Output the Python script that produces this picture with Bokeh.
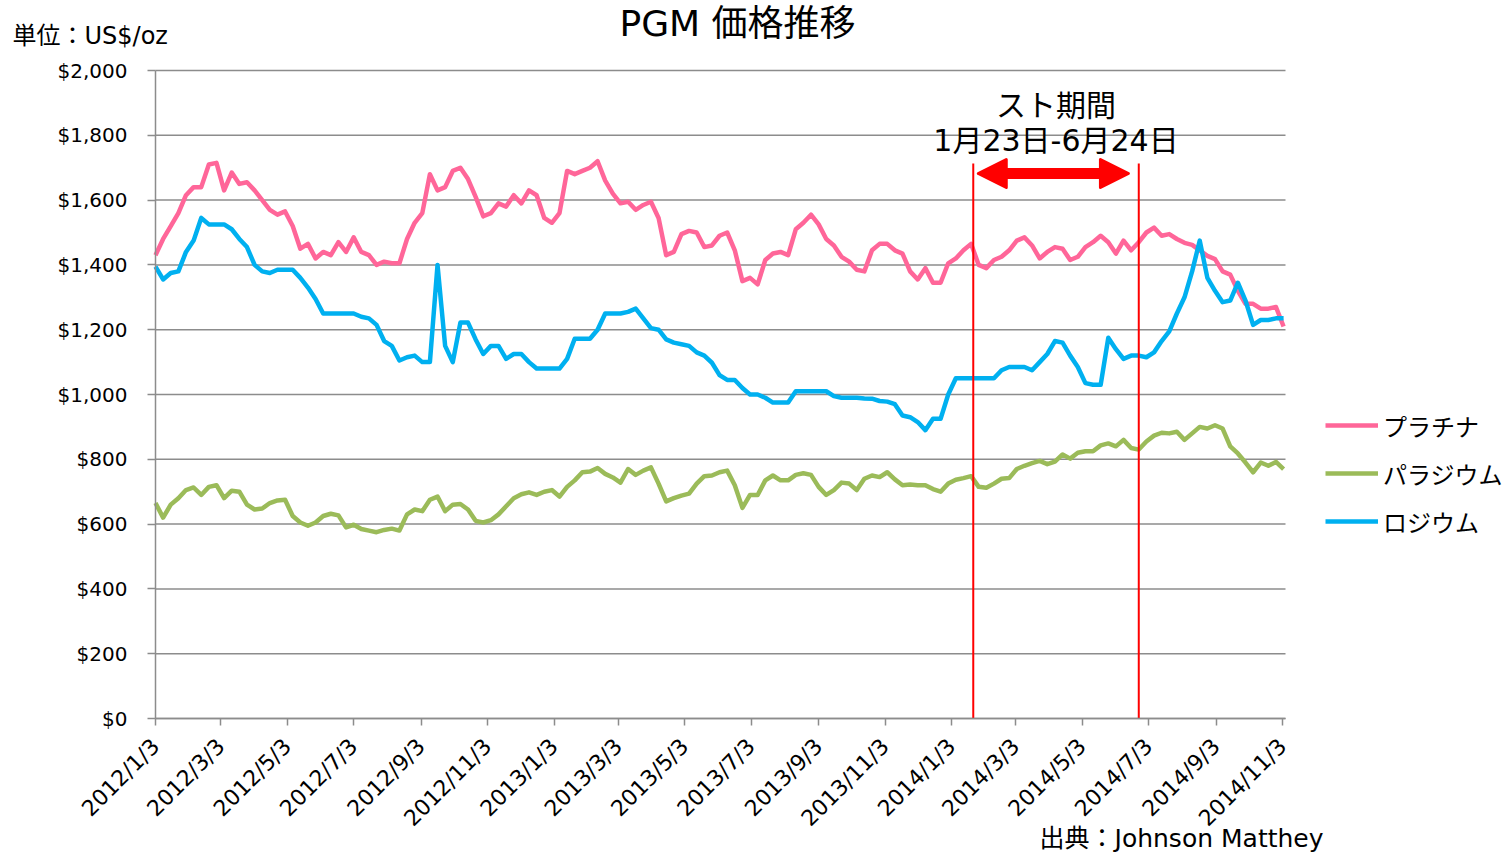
import pandas as pd
from bokeh.plotting import figure
from bokeh.models import (Range1d, FixedTicker, NumeralTickFormatter, Legend, LegendItem,
                          Label, Arrow, NormalHead, ColumnDataSource)
from bokeh.embed import file_html
from bokeh.resources import INLINE

# ---------------- data (weekly readings, US$/oz) ----------------
start_date = "2012-01-03"

platinum = [
    1430, 1480, 1520, 1560, 1615, 1640, 1640, 1710, 1715, 1630,
    1685, 1650, 1655, 1630, 1600, 1570, 1555, 1565, 1520, 1450,
    1465, 1420, 1440, 1430, 1470, 1440, 1485, 1440, 1430, 1400,
    1410, 1405, 1405, 1480, 1530, 1560, 1680, 1630, 1640, 1690,
    1700, 1665, 1610, 1550, 1560, 1590, 1580, 1615, 1590, 1630,
    1615, 1545, 1530, 1560, 1690, 1680, 1690, 1700, 1720, 1660,
    1620, 1590, 1595, 1570, 1585, 1595, 1545, 1430, 1440, 1495,
    1505, 1500, 1455, 1460, 1490, 1500, 1445, 1350, 1360, 1340,
    1415, 1435, 1440, 1430, 1510, 1530, 1555, 1525, 1480, 1460,
    1425, 1410, 1385, 1380, 1445, 1465, 1465, 1445, 1435, 1380,
    1355, 1390, 1345, 1345, 1405, 1420, 1445, 1465, 1400, 1390,
    1415, 1425, 1445, 1475, 1485, 1460, 1420, 1440, 1455, 1450,
    1415, 1425, 1455, 1470, 1490, 1470, 1435, 1475, 1445, 1470,
    1500, 1515, 1490, 1495, 1480, 1468, 1462, 1445, 1428, 1418,
    1380, 1370, 1320, 1280, 1280, 1265, 1265, 1270, 1210,
]

palladium = [
    665, 620, 660, 680, 705, 713, 690, 715, 720, 680,
    703, 700, 660, 645, 648, 665, 673, 675, 625, 605,
    595, 605, 625, 632, 627, 590, 598, 585, 580, 575,
    582, 586, 580, 630, 645, 640, 675, 685, 640, 660,
    662, 645, 610, 605, 612, 630, 655, 680, 692, 698,
    690, 700, 705, 685, 715, 735, 760, 762, 773, 755,
    744, 728, 770, 752, 765, 775, 725, 670, 680, 688,
    694, 725, 748, 750, 760, 765, 720, 650, 690, 690,
    735, 750, 735, 735, 752, 757, 752, 715, 690, 705,
    728, 725, 705, 740, 750, 745, 760, 738, 720, 722,
    720, 720, 708, 700, 725, 737, 742, 748, 715, 712,
    725, 740, 742, 770, 780, 788, 795, 785, 793, 815,
    802, 820, 825, 825, 843, 849, 840, 860, 835, 830,
    855, 873, 882, 880, 885, 860, 880, 900, 895, 905,
    895, 840, 818, 790, 760, 790, 780, 792, 770,
]

rhodium = [
    1395, 1355, 1375, 1380, 1440, 1475, 1545, 1525, 1525, 1525,
    1510, 1480, 1455, 1400, 1380, 1375, 1385, 1385, 1385, 1360,
    1330, 1295, 1250, 1250, 1250, 1250, 1250, 1240, 1235, 1215,
    1165, 1150, 1105, 1115, 1120, 1100, 1100, 1400, 1150, 1100,
    1222, 1222, 1170, 1125, 1150, 1150, 1110, 1125, 1125, 1100,
    1080, 1080, 1080, 1080, 1110, 1172, 1172, 1172, 1200, 1250,
    1250, 1250, 1255, 1265, 1235, 1205, 1200, 1170, 1160, 1155,
    1150, 1130, 1120, 1098, 1060, 1045, 1045, 1020, 1000, 1000,
    990, 975, 975, 975, 1010, 1010, 1010, 1010, 1010, 995,
    990, 990, 990, 988, 987, 980, 978, 970, 935, 930,
    915, 890, 925, 925, 1000, 1050, 1050, 1050, 1050, 1050,
    1050, 1075, 1085, 1085, 1085, 1075, 1100, 1125, 1165, 1160,
    1120, 1085, 1035, 1030, 1030, 1175, 1140, 1110, 1120, 1120,
    1115, 1130, 1165, 1195, 1250, 1300, 1380, 1475, 1360, 1320,
    1285, 1290, 1345, 1290, 1215, 1230, 1230, 1235, 1235,
]

series_names = ["プラチナ", "パラジウム", "ロジウム"]
series_colors = ["#FF6699", "#9BBB59", "#00B0F0"]

tick_labels = ["2012/1/3", "2012/3/3", "2012/5/3", "2012/7/3", "2012/9/3", "2012/11/3",
               "2013/1/3", "2013/3/3", "2013/5/3", "2013/7/3", "2013/9/3", "2013/11/3",
               "2014/1/3", "2014/3/3", "2014/5/3", "2014/7/3", "2014/9/3", "2014/11/3"]
y_ticks = [0, 200, 400, 600, 800, 1000, 1200, 1400, 1600, 1800, 2000]
y_max = 2000

strike_start = "2014-01-23"
strike_end = "2014-06-24"

# ---------------- layout (pixels on the page) ----------------
W, H = 1510, 856
AX_L, AX_R = 155, 1285        # x pixels of the axis start / end
AX_B, AX_T = 718, 70          # y pixels of $0 / $2,000

EPOCH = pd.Timestamp("1970-01-01")
DAY = 86400000.0


def ms(ts):
    return (pd.Timestamp(ts) - EPOCH).total_seconds() * 1000.0


dates = pd.date_range(start_date, periods=len(platinum), freq="7D")
src = ColumnDataSource(dict(date=dates, pt=platinum, pd_=palladium, rh=rhodium))
tick_ms = [ms(pd.to_datetime(t)) for t in tick_labels]

x_start = ms(start_date)
x_end = ms(pd.Timestamp("2014-11-05 18:00"))
px_per_ms = (AX_R - AX_L) / (x_end - x_start)
px_per_usd = (AX_B - AX_T) / y_max

# frame covers the whole canvas; axes are pinned with fixed_location
xr = Range1d(x_start - AX_L / px_per_ms, x_start + (W - AX_L) / px_per_ms)
yr = Range1d(-(H - AX_B) / px_per_usd, y_max + AX_T / px_per_usd)

FONT_NUM = "DejaVu Sans"
FONT_MIX = "DejaVu Sans, Noto Sans CJK JP"
FONT_JP = "Noto Sans CJK JP"

p = figure(width=W, height=H, x_axis_type="datetime", x_range=xr, y_range=yr,
           output_backend="svg", toolbar_location=None, title=None,
           min_border_left=0, min_border_right=0, min_border_top=0, min_border_bottom=0)
p.outline_line_color = None
p.background_fill_color = "white"
p.border_fill_color = "white"
p.xgrid.visible = False
p.ygrid.visible = False

# horizontal grid lines limited to the axis span
p.segment(x0=[x_start] * len(y_ticks), x1=[x_end] * len(y_ticks), y0=y_ticks, y1=y_ticks,
          line_color="#8C8C8C", line_width=1.5)

# axes
for ax in (p.xaxis[0], p.yaxis[0]):
    ax.axis_line_color = "#8C8C8C"
    ax.axis_line_width = 1.5
    ax.major_tick_line_color = "#8C8C8C"
    ax.major_tick_line_width = 1.5
    ax.major_tick_in = 0
    ax.minor_tick_line_color = None
    ax.major_label_text_color = "#000000"
    ax.major_label_text_font = FONT_NUM

p.yaxis.fixed_location = x_start
p.yaxis.bounds = (0, y_max)
p.yaxis.ticker = FixedTicker(ticks=y_ticks)
p.yaxis.formatter = NumeralTickFormatter(format="$0,0")
p.yaxis.major_tick_out = 8
p.yaxis.major_label_standoff = 20
p.yaxis.major_label_text_font_size = "20px"

p.xaxis.fixed_location = 0
p.xaxis.bounds = (x_start, x_end)
p.xaxis.ticker = FixedTicker(ticks=tick_ms)
p.xaxis.major_label_overrides = {t: lab for t, lab in zip(tick_ms, tick_labels)}
p.xaxis.major_label_orientation = 0.785398
p.xaxis.major_tick_out = 7
p.xaxis.major_label_standoff = 17
p.xaxis.major_label_text_font_size = "22px"

# series
r_pt = p.line("date", "pt", source=src, line_color=series_colors[0], line_width=4.5, line_join="round")
r_pd = p.line("date", "pd_", source=src, line_color=series_colors[1], line_width=4.5, line_join="round")
r_rh = p.line("date", "rh", source=src, line_color=series_colors[2], line_width=4.5, line_join="round")

# strike period markers
s0, s1 = ms(strike_start), ms(strike_end)
p.segment(x0=[s0, s1], y0=[0, 0], x1=[s0, s1], y1=[1713, 1713], line_color="#FF0000", line_width=2)

arrow_y = 1682
p.add_layout(Arrow(x_start=s0 + 4.6 * DAY, y_start=arrow_y, x_end=s1 - 9.5 * DAY, y_end=arrow_y,
                   line_color="#FF0000", line_width=11,
                   start=NormalHead(size=28, fill_color="#FF0000", line_color="#FF0000", line_join="round", line_width=3),
                   end=NormalHead(size=28, fill_color="#FF0000", line_color="#FF0000", line_join="round", line_width=3)))


def add_text(text, px, py, size, align="center", font=FONT_MIX):
    p.add_layout(Label(x=px, y=H - py, x_units="screen", y_units="screen", text=text,
                       text_align=align, text_baseline="middle", text_font_size=size,
                       text_font=font, text_color="#000000"))


mid_px = AX_L + ((s0 + s1) / 2 - x_start) * px_per_ms
add_text("スト期間", mid_px, 105, "30px")
add_text("1月23日-6月24日", mid_px, 140, "30px")

add_text("PGM 価格推移", 737, 23, "36px")
add_text("単位：US$/oz", 12, 35, "24px", align="left")
add_text("出典：Johnson Matthey", 1323, 838, "25px", align="right")

# legend
legend = Legend(items=[LegendItem(label=series_names[0], renderers=[r_pt]),
                       LegendItem(label=series_names[1], renderers=[r_pd]),
                       LegendItem(label=series_names[2], renderers=[r_rh])],
                location=(1325, H - 538.5), orientation="vertical",
                glyph_width=53, glyph_height=24, label_height=24, spacing=13,
                padding=0, margin=0, label_standoff=5,
                label_text_font_size="24px", label_text_font=FONT_JP,
                label_text_color="#000000",
                border_line_alpha=0, background_fill_alpha=0)
p.add_layout(legend)

open("out.html", "w").write(file_html(p, INLINE))
